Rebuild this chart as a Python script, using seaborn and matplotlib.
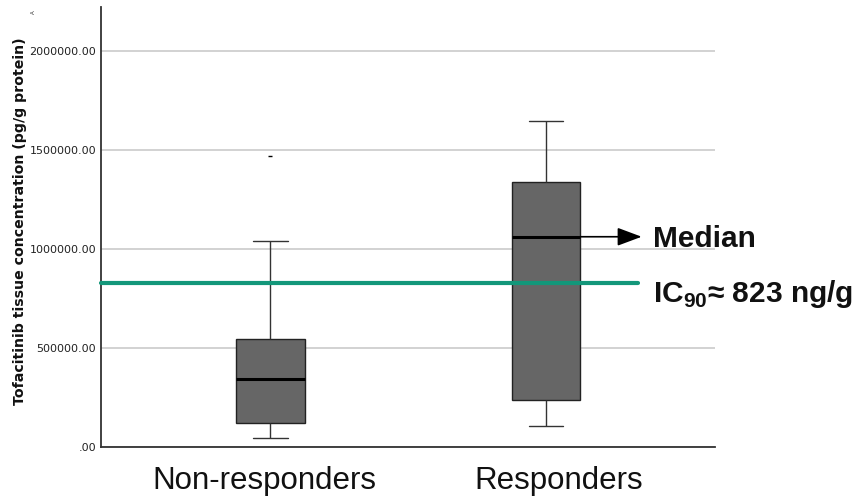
import numpy as np
import pandas as pd
import matplotlib
matplotlib.use("Agg")
import matplotlib.pyplot as plt
import matplotlib.transforms as mtransforms
import seaborn as sns

# ---- data ----
groups = ["Non-responders", "Responders"]
# Observations chosen so that the box statistics match the chart
non_responders = [42000, 80000, 121000, 230000, 341000, 450000, 544000, 1040000, 1469000]
responders = [106000, 236000, 1061000, 1339000, 1648000]
ic90 = 826000  # IC90 ~ 823 ng/g (pg/g protein scale)
ytick_values = [0, 500000, 1000000, 1500000, 2000000]
ytick_labels = [".00", "500000.00", "1000000.00", "1500000.00", "2000000.00"]

df = pd.DataFrame({
    "group": [groups[0]] * len(non_responders) + [groups[1]] * len(responders),
    "value": non_responders + responders,
})

sns.set_theme(style="white")
plt.rcParams["font.family"] = ["DejaVu Sans"]
plt.rcParams["mathtext.fontset"] = "custom"
plt.rcParams["mathtext.rm"] = "Liberation Sans"
plt.rcParams["mathtext.bf"] = "Liberation Sans:bold"

fig = plt.figure(figsize=(8.59, 4.96), dpi=100)
ax = fig.add_axes([101 / 859, 1 - 446.7 / 496, 614 / 859, 439.7 / 496])

box_w = 0.25
sns.boxplot(
    data=df, x="group", y="value", order=groups, ax=ax,
    width=box_w, color="#666666", saturation=1, linecolor="#222222",
    linewidth=1,
    medianprops=dict(color="black", linewidth=2.2),
    whiskerprops=dict(color="#333333", linewidth=1),
    capprops=dict(color="#333333", linewidth=1),
    flierprops=dict(marker="_", markersize=3, markeredgecolor="black",
                    markeredgewidth=1),
    zorder=3,
)

ax.set_xlim(-0.614, 1.613)
ax.set_ylim(0, 2.222e6)
ax.set_yticks(ytick_values)
ax.set_yticklabels(ytick_labels, fontsize=8, color="#222222")
ax.yaxis.grid(True, color="#cfcfcf", linewidth=1.3, zorder=0)
ax.set_axisbelow(True)
ax.tick_params(axis="y", length=0, pad=3.5)
ax.tick_params(axis="x", length=0, pad=14)
label_shift_px = [-5.8, 13.0]
for lab, dx in zip(ax.get_xticklabels(), label_shift_px):
    lab.set_fontsize(22.5)
    lab.set_family(["Liberation Sans", "DejaVu Sans"])
    lab.set_color("#111111")
    lab.set_transform(lab.get_transform() +
                      mtransforms.ScaledTranslation(dx / 100, 0, fig.dpi_scale_trans))

ax.set_xlabel("")
ax.set_ylabel("Tofacitinib tissue concentration (pg/g protein)",
              fontsize=10.2, fontweight="bold", color="#111111")
ax.yaxis.set_label_coords(-(101 - 27.5) / 614, 0.514)

for s in ["top", "right"]:
    ax.spines[s].set_visible(False)
for s in ["left", "bottom"]:
    ax.spines[s].set_color("#333333")
    ax.spines[s].set_linewidth(1.3)

# IC90 line
ax.axhline(ic90, xmin=0, xmax=(638.3 - 101) / 614, color="#13977A",
           linewidth=3, zorder=4, clip_on=False)

# Median arrow for responders
med_r = float(np.median(responders))
arrow_end = 1.347
ax.annotate("", xy=(arrow_end, med_r), xytext=(1 + box_w / 2, med_r),
            arrowprops=dict(arrowstyle="-|>,head_length=0.75,head_width=0.28",
                            color="black", lw=1.2, mutation_scale=20,
                            shrinkA=0, shrinkB=0),
            zorder=5, annotation_clip=False)
ax.annotate("Median", xy=(arrow_end, med_r), xytext=(8, -7.4),
            textcoords="offset points", ha="left", va="baseline",
            fontsize=21.5, fontweight="bold", color="#111111",
            family=["Liberation Sans", "DejaVu Sans"], annotation_clip=False)
ax.annotate(r"IC$_{\mathbf{90}}$≈ 823 ng/g", xy=(arrow_end, ic90),
            xytext=(8, -13.4), textcoords="offset points", ha="left",
            va="baseline", fontsize=21.5, fontweight="bold", color="#111111",
            family=["Liberation Sans", "DejaVu Sans"], annotation_clip=False)

fig.text(33 / 859, 1 - 12 / 496, "A", fontsize=4, rotation=90,
         ha="center", va="center", color="#333333")

fig.savefig("out.png", dpi=100)
